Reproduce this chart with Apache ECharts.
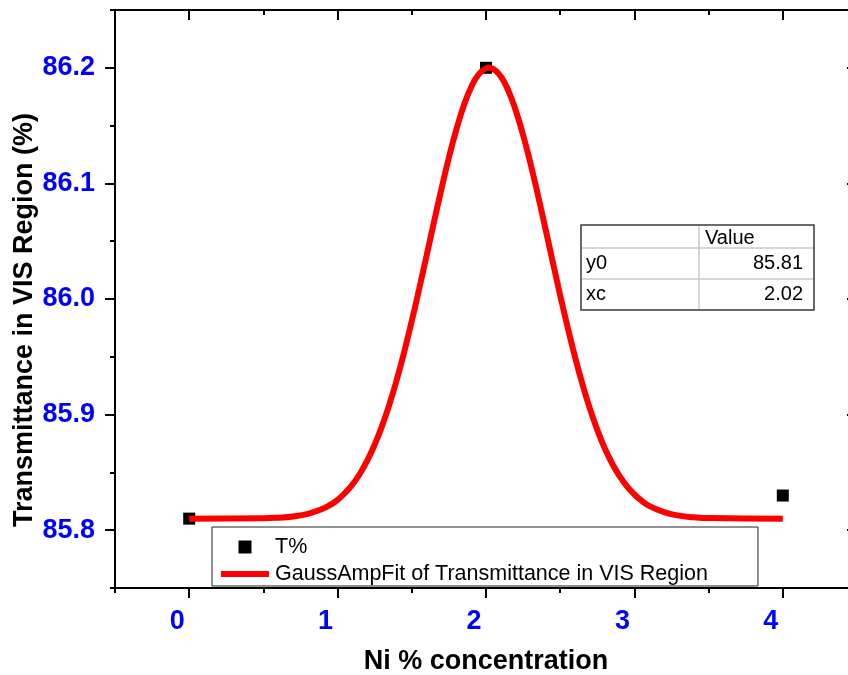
<!DOCTYPE html>
<html>
<head>
<meta charset="utf-8">
<title>Transmittance vs Ni concentration</title>
<script src="https://cdn.jsdelivr.net/npm/echarts@6/dist/echarts.min.js"></script>
<style>
  html, body { margin: 0; padding: 0; background: #ffffff; }
  #chart { width: 848px; height: 675px; }
</style>
</head>
<body>
<div id="chart"></div>
<script>
// Measured transmittance (T%) at each Ni concentration
var niConcentration = [0, 2, 4];
var transmittance = [85.81, 86.2, 85.83];

// GaussAmp fit curve, sampled along x
var fitX = [0, 0.5, 0.6, 0.7, 0.8, 0.9, 0.95, 1.0, 1.05, 1.1, 1.15, 1.2, 1.25, 1.3, 1.35, 1.4, 1.45,
            1.5, 1.55, 1.6, 1.65, 1.7, 1.75, 1.8, 1.85, 1.9, 1.95, 2.0, 2.02, 2.05, 2.1, 2.15,
            2.2, 2.25, 2.3, 2.35, 2.4, 2.45, 2.5, 2.55, 2.6, 2.65, 2.7, 2.75, 2.8, 2.85, 2.9,
            2.95, 3.0, 3.05, 3.1, 3.2, 3.3, 3.4, 3.5, 4.0];
var fitY = [85.810, 85.8103, 85.8108, 85.8119, 85.8142, 85.8185, 85.8219, 85.8263, 85.8322,
            85.8395, 85.8488, 85.8602, 85.8740, 85.8903, 85.9093, 85.9308, 85.9549,
            85.9811, 86.0089, 86.0378, 86.0669, 86.0954, 86.1223, 86.1465, 86.1671,
            86.1832, 86.1942, 86.1995, 86.2000, 86.1989, 86.1925, 86.1804,
            86.1633, 86.1419, 86.1171, 86.0898, 86.0612, 86.0319, 86.0032, 85.9756,
            85.9499, 85.9263, 85.9052, 85.8868, 85.8710, 85.8577, 85.8468,
            85.8379, 85.8309, 85.8254, 85.8211, 85.8156, 85.8126, 85.8112, 85.8105, 85.810];

// Fit parameter table
var paramNames = ['y0', 'xc'];
var paramValues = ['85.81', '2.02'];

// Axis ticks
var xMajorTicks = [0, 1, 2, 3, 4];
var xMinorTicks = [-0.5, 0.5, 1.5, 2.5, 3.5, 4.5];
var yMajorTicks = [85.8, 85.9, 86.0, 86.1, 86.2];
var yMinorTicks = [85.75, 85.85, 85.95, 86.05, 86.15, 86.25];

var seriesPoints = 'T%';
var seriesFit = 'GaussAmpFit of Transmittance in VIS Region';

var FONT = '"Liberation Sans", Arial, sans-serif';
var xRange = { min: -0.5, max: 4.5 };
var yRange = { min: 85.75, max: 86.25 };

function pairs(xs, ys) {
  return xs.map(function (x, i) { return [x, ys[i]]; });
}

function xAxisDef(pos, ticks, len, inside, withLine, withLabels) {
  return {
    type: 'value', position: pos, min: xRange.min, max: xRange.max,
    splitLine: { show: false },
    axisLine: { show: withLine, onZero: false, lineStyle: { color: '#000', width: 2 } },
    axisTick: { show: true, inside: inside, length: len, customValues: ticks,
                lineStyle: { color: '#000', width: 2 } },
    axisLabel: withLabels ? {
      show: true, customValues: xMajorTicks, color: '#0000ff', fontWeight: 'bold',
      fontSize: 27, fontFamily: FONT, margin: 20, padding: [0, 24, 0, 0]
    } : { show: false }
  };
}

function yAxisDef(pos, ticks, len, inside, withLine, withLabels) {
  return {
    type: 'value', position: pos, min: yRange.min, max: yRange.max,
    splitLine: { show: false },
    axisLine: { show: withLine, onZero: false, lineStyle: { color: '#000', width: 2 } },
    axisTick: { show: true, inside: inside, length: len, customValues: ticks,
                lineStyle: { color: '#000', width: 2 } },
    axisLabel: withLabels ? {
      show: true, customValues: yMajorTicks, color: '#0000ff', fontWeight: 'bold',
      fontSize: 27, fontFamily: FONT, margin: 20,
      formatter: function (v) { return v.toFixed(1); }
    } : { show: false }
  };
}

var chart = echarts.init(document.getElementById('chart'), null, { renderer: 'canvas' });

var bottomMain = xAxisDef('bottom', xMajorTicks, 10, false, true, true);
bottomMain.name = 'Ni % concentration';
bottomMain.nameLocation = 'middle';
bottomMain.nameGap = 60;
bottomMain.nameTextStyle = { color: '#000', fontWeight: 'bold', fontSize: 27, fontFamily: FONT };

// Parameter table drawn as a small boxed grid
var tbl = { x: 581, y: 225, w: 233, h: 85, col: 118, rows: [23, 31, 31] };
var tableEls = [];
tableEls.push({ type: 'rect', shape: { x: tbl.x, y: tbl.y, width: tbl.w, height: tbl.h },
  style: { fill: '#fff', stroke: '#3a3a3a', lineWidth: 1.5 }, z: 10 });
var ry = tbl.y;
for (var r = 0; r < tbl.rows.length; r++) {
  var rh = tbl.rows[r];
  if (r > 0) {
    tableEls.push({ type: 'line', shape: { x1: tbl.x + 1, y1: ry, x2: tbl.x + tbl.w - 1, y2: ry },
      style: { stroke: '#c8c8c8', lineWidth: 1.5 }, z: 11 });
  }
  var cy = ry + rh / 2;
  if (r === 0) {
    tableEls.push({ type: 'text', x: tbl.x + tbl.col + 6, y: cy + 2, z: 12,
      style: { text: 'Value', font: '20px ' + FONT, fill: '#000', textAlign: 'left', textVerticalAlign: 'middle' } });
  } else {
    tableEls.push({ type: 'text', x: tbl.x + 5, y: cy, z: 12,
      style: { text: paramNames[r - 1], font: '20px ' + FONT, fill: '#000', textAlign: 'left', textVerticalAlign: 'middle' } });
    tableEls.push({ type: 'text', x: tbl.x + tbl.w - 11, y: cy, z: 12,
      style: { text: paramValues[r - 1], font: '20px ' + FONT, fill: '#000', textAlign: 'right', textVerticalAlign: 'middle' } });
  }
  ry += rh;
}
tableEls.push({ type: 'line', shape: { x1: tbl.x + tbl.col, y1: tbl.y + 1, x2: tbl.x + tbl.col, y2: tbl.y + tbl.h - 1 },
  style: { stroke: '#c8c8c8', lineWidth: 1.5 }, z: 11 });

// Vertical axis title
tableEls.push({ type: 'text', x: 25, y: 320, rotation: Math.PI / 2, z: 12,
  style: { text: 'Transmittance in VIS Region (%)', font: 'bold 27px ' + FONT, fill: '#000',
           textAlign: 'center', textVerticalAlign: 'middle' } });

chart.setOption({
  backgroundColor: '#ffffff',
  animation: false,
  grid: { left: 115, top: 10, right: -9, bottom: 87, containLabel: false, outerBoundsMode: 'none' },
  xAxis: [
    bottomMain,
    xAxisDef('bottom', xMinorTicks, 5, false, false, false),
    xAxisDef('top', xMajorTicks, 10, true, true, false),
    xAxisDef('top', xMinorTicks, 5, true, false, false)
  ],
  yAxis: [
    yAxisDef('left', yMajorTicks, 10, false, true, true),
    yAxisDef('left', yMinorTicks, 5, false, false, false),
    yAxisDef('right', yMajorTicks, 10, true, true, false),
    yAxisDef('right', yMinorTicks, 5, true, false, false)
  ],
  legend: {
    orient: 'vertical', left: 212, top: 527,
    backgroundColor: '#fff', borderColor: '#222', borderWidth: 1,
    padding: [9, 50, 1, 9], itemGap: 5, itemWidth: 48, itemHeight: 13,
    textStyle: { color: '#000', fontSize: 21.5, fontFamily: FONT, padding: [0, 0, 0, 1] },
    data: [
      { name: seriesPoints, icon: 'path://M0,0L10,0L10,10L0,10Z', itemStyle: { color: '#000', opacity: 1 } },
      { name: seriesFit, icon: 'path://M0,0L48,0L48,6L0,6Z', itemStyle: { color: '#ff0000' } }
    ],
    z: 20
  },
  graphic: tableEls,
  series: [
    {
      name: seriesPoints, type: 'scatter', xAxisIndex: 0, yAxisIndex: 0,
      symbol: 'rect', symbolSize: 12, itemStyle: { color: '#000', opacity: 1 },
      data: pairs(niConcentration, transmittance), z: 2
    },
    {
      name: seriesFit, type: 'line', xAxisIndex: 0, yAxisIndex: 0,
      symbol: 'none', smooth: true, lineStyle: { color: '#ff0000', width: 6, cap: 'butt' },
      itemStyle: { color: '#ff0000' },
      data: pairs(fitX, fitY), z: 3
    }
  ]
});
</script>
</body>
</html>
